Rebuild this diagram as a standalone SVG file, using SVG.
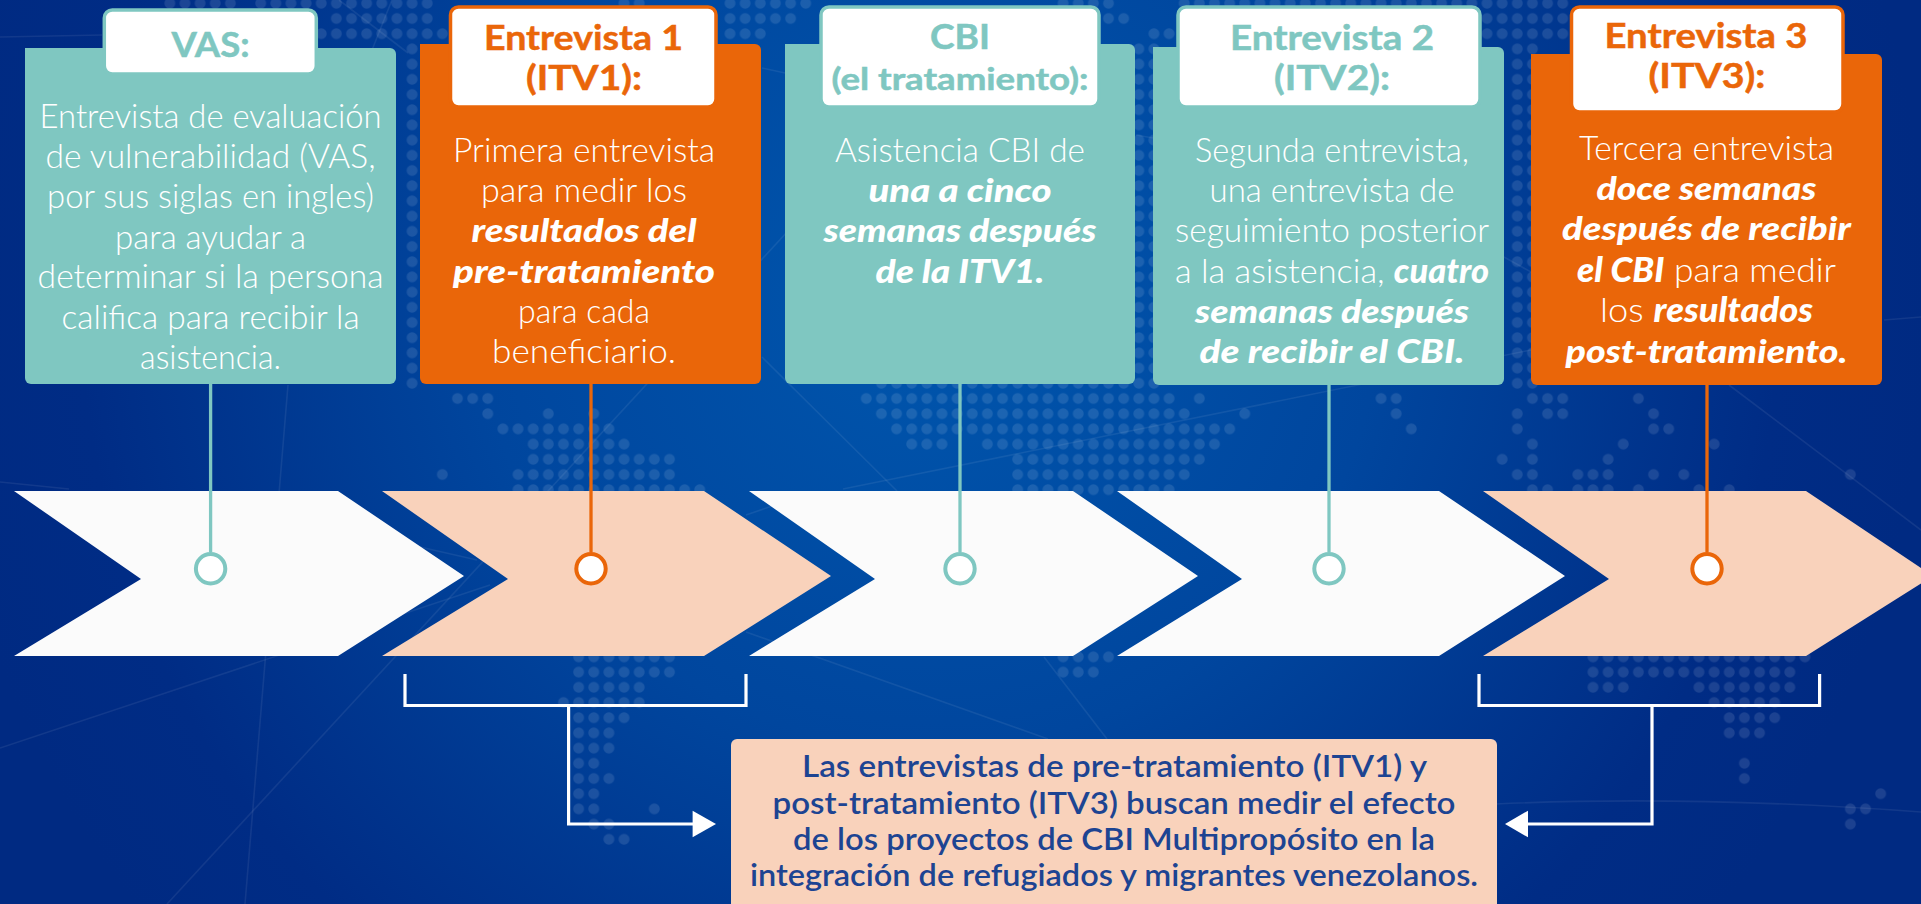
<svg xmlns="http://www.w3.org/2000/svg" width="1921" height="904" viewBox="0 0 1921 904">
<style>
text{font-family:Lato,"Noto Sans","Liberation Sans",sans-serif;text-anchor:middle}
.b{font-size:34px;font-weight:300;fill:#fff}
.i{font-size:33px;font-weight:900;font-style:italic;fill:#fff}
.s{font-weight:900;font-style:italic}
.t{font-size:35px;font-weight:700;stroke-width:.5}
.teal{fill:#7fc7c1}.org{fill:#ea6609}
text.teal{stroke:#7fc7c1}text.org{stroke:#ea6609}
.tabt{fill:#fff;stroke:#7fc7c1;stroke-width:3.5}
.tabo{fill:#fff;stroke:#ea6609;stroke-width:3.5}
.n{font-size:30px;font-weight:600;fill:#1d4492}
.ln{stroke-width:3.3;fill:none}
.dt{fill:#fff;stroke-width:4}
.br{fill:none;stroke:#fff;stroke-width:3.2}
.tex{fill:none;stroke:#fff;stroke-opacity:.07;stroke-width:1.6}
</style>
<defs>
<radialGradient id="bg" gradientUnits="userSpaceOnUse" cx="930" cy="300" r="1000">
<stop offset="0" stop-color="#0056ad"/><stop offset=".45" stop-color="#00469e"/><stop offset=".85" stop-color="#002c85"/><stop offset="1" stop-color="#002a82"/>
</radialGradient>
<pattern id="dots" patternUnits="userSpaceOnUse" width="1" height="1">
<circle cx=".5" cy=".5" r=".36" fill="#fff" fill-opacity=".11"/>
</pattern>
</defs>
<rect id="background" width="1921" height="904" fill="url(#bg)"/>
<path id="map-dots" fill="url(#dots)" transform="translate(-4.27 -4.3) scale(15.14 15.2)" d="
M11 0h5v1h-5zM17 0h12v1h-12zM41 0h2v1h-2zM48 0h6v1h-6zM70 0h4v1h-4zM78 0h26v1h-26z
M22 1h7v1h-7zM48 1h5v1h-5zM73 1h2v1h-2zM98 1h6v1h-6z
M21 2h9v1h-9zM48 2h3v1h-3zM76 2h3v1h-3zM98 2h6v1h-6z
M27 3h1v23h-1zM75 3h2v23h-2zM100 3h2v23h-2z
M58 25h18v1h-18z
M30 26h3v1h-3zM57 26h21v1h-21zM79 26h1v1h-1zM91 26h2v1h-2zM101 26h3v1h-3zM108 26h1v1h-1z
M32 27h1v1h-1zM36 27h1v1h-1zM39 27h1v1h-1zM58 27h21v1h-21zM82 27h1v1h-1zM92 27h1v1h-1zM100 27h1v1h-1zM102 27h2v1h-2zM109 27h1v1h-1z
M33 28h8v1h-8zM59 28h23v1h-23zM93 28h1v1h-1zM100 28h1v1h-1zM109 28h2v1h-2z
M35 29h7v1h-7zM60 29h3v1h-3zM65 29h16v1h-16zM101 29h1v1h-1zM107 29h1v1h-1zM113 29h1v1h-1z
M35 30h10v1h-10zM67 30h13v1h-13zM99 30h1v1h-1zM101 30h1v1h-1zM106 30h1v1h-1z
M29 31h1v1h-1zM34 31h11v1h-11zM67 31h12v1h-12zM100 31h2v1h-2zM104 31h3v1h-3zM109 31h1v1h-1zM111 31h1v1h-1zM122 31h1v1h-1z
M34 32h13v1h-13zM67 32h11v1h-11zM101 32h2v1h-2zM104 32h3v1h-3zM108 32h1v1h-1zM112 32h1v1h-1zM114 32h1v1h-1z
M38 43h7v1h-7zM70 43h4v1h-4zM105 43h15v1h-15z
M38 44h7v1h-7zM70 44h3v1h-3zM105 44h14v1h-14z
M38 45h5v1h-5zM105 45h3v1h-3zM112 45h7v1h-7z
M37 46h6v1h-6zM113 46h5v1h-5z
M38 47h4v1h-4zM114 47h4v1h-4z
M38 48h3v1h-3zM114 48h3v1h-3z
M38 49h3v1h-3z
M38 50h2v1h-2zM115 50h1v1h-1z
M38 51h3v1h-3zM115 51h1v1h-1z
M38 52h2v1h-2zM124 52h1v1h-1z
M38 53h2v1h-2zM43 53h1v1h-1zM122 53h2v1h-2z
M39 54h2v1h-2zM122 54h1v1h-1z
M40 55h2v1h-2z"/>
<g id="texture-lines" class="tex">
<path d="M167 904L800 218"/>
<path d="M0 748L490 585"/>
<path d="M746 515L775 505"/>
<path d="M843 489L1531 350"/>
<path d="M245 904L288 385"/>
<path d="M477 560L420 547"/>
<path d="M746 632L1048 739"/>
<path d="M1044 657L1107 739"/>
<path d="M762 357L897 491"/>
<path d="M1729 385L1921 530"/>
<path d="M1496 804Q1690 795 1921 812"/>
<path d="M0 37L102 35"/>
<path d="M0 482L69 489"/>
<path d="M339 0L408 53"/>
<path d="M392 0L372 50"/>
<path d="M762 68L785 73"/>
<path d="M1136 135L1153 138"/>
<path d="M1884 320L1921 317"/>
<path d="M1504 257L1531 272"/>
</g>
<g id="chevrons">
<polygon id="chevron-1" fill="#fbfbfb" points="14,491 338,491 464,576 338,656 14,656 141,579"/>
<polygon id="chevron-2" fill="#f9d2bb" points="382,491 704,491 831,576 704,656 382,656 508,579"/>
<polygon id="chevron-3" fill="#fbfbfb" points="749,491 1073,491 1198,576 1073,656 749,656 875,579"/>
<polygon id="chevron-4" fill="#fbfbfb" points="1117,491 1439,491 1565,576 1439,656 1117,656 1242,579"/>
<polygon id="chevron-5" fill="#f9d2bb" points="1483,491 1806,491 1933,576 1806,656 1483,656 1609,579"/>
</g>
<g id="connectors">
<path class="ln" stroke="#7fc7c1" d="M210.6 384V552"/>
<path class="ln" stroke="#ea6609" d="M591 384V552"/>
<path class="ln" stroke="#7fc7c1" d="M960 384V552"/>
<path class="ln" stroke="#7fc7c1" d="M1329 385V552"/>
<path class="ln" stroke="#ea6609" d="M1707 385V552"/>
<circle class="dt" stroke="#7fc7c1" cx="210.6" cy="568.7" r="14.7"/>
<circle class="dt" stroke="#ea6609" cx="591" cy="568.7" r="14.7"/>
<circle class="dt" stroke="#7fc7c1" cx="960" cy="568.7" r="14.7"/>
<circle class="dt" stroke="#7fc7c1" cx="1329" cy="568.7" r="14.7"/>
<circle class="dt" stroke="#ea6609" cx="1707" cy="568.7" r="14.7"/>
<path class="br" d="M405 674V705.5H746V674"/>
<path class="br" d="M568.6 705.5V824H694"/>
<polygon fill="#fff" points="692.6,810.7 716,824 692.6,837.3"/>
<path class="br" d="M1479 674V705.5H1819.6V674"/>
<path class="br" d="M1652 705.5V824H1527"/>
<polygon fill="#fff" points="1528,810.7 1505,824 1528,837.3"/>
</g>
<g id="node-vas">
<path class="teal" d="M25 48H390a6 6 0 0 1 6 6V378a6 6 0 0 1 -6 6H31a6 6 0 0 1 -6 -6Z"/>
<rect class="tabt" x="104.3" y="10" width="212" height="64" rx="8"/>
<text class="t teal" x="210.6" y="57" textLength="78" lengthAdjust="spacingAndGlyphs">VAS:</text>
<text class="b" x="210.6" y="128.3" textLength="342" lengthAdjust="spacingAndGlyphs">Entrevista de evaluación</text>
<text class="b" x="210.6" y="168.3" textLength="330" lengthAdjust="spacingAndGlyphs">de vulnerabilidad (VAS,</text>
<text class="b" x="210.6" y="208.3" textLength="327" lengthAdjust="spacingAndGlyphs">por sus siglas en ingles)</text>
<text class="b" x="210.6" y="249" textLength="191" lengthAdjust="spacingAndGlyphs">para ayudar a</text>
<text class="b" x="210.6" y="288.3" textLength="346" lengthAdjust="spacingAndGlyphs">determinar si la persona</text>
<text class="b" x="210.6" y="329" textLength="298" lengthAdjust="spacingAndGlyphs">califica para recibir la</text>
<text class="b" x="210.6" y="369" textLength="141" lengthAdjust="spacingAndGlyphs">asistencia.</text>
</g>
<g id="node-entrevista-1">
<path class="org" d="M420 44H755a6 6 0 0 1 6 6V378a6 6 0 0 1 -6 6H426a6 6 0 0 1 -6 -6Z"/>
<rect class="tabo" x="450.5" y="7" width="265.5" height="100" rx="8"/>
<text class="t org" x="583.5" y="50" textLength="199" lengthAdjust="spacingAndGlyphs">Entrevista 1</text>
<text class="t org" x="584" y="90" textLength="116" lengthAdjust="spacingAndGlyphs">(ITV1):</text>
<text class="b" x="584" y="162" textLength="262" lengthAdjust="spacingAndGlyphs">Primera entrevista</text>
<text class="b" x="584" y="202" textLength="206" lengthAdjust="spacingAndGlyphs">para medir los</text>
<text class="i" x="584" y="242" textLength="225" lengthAdjust="spacingAndGlyphs">resultados del</text>
<text class="i" x="584" y="283" textLength="262" lengthAdjust="spacingAndGlyphs">pre-tratamiento</text>
<text class="b" x="584" y="323" textLength="132" lengthAdjust="spacingAndGlyphs">para cada</text>
<text class="b" x="584" y="363" textLength="184" lengthAdjust="spacingAndGlyphs">beneficiario.</text>
</g>
<g id="node-cbi">
<path class="teal" d="M785 44H1129a6 6 0 0 1 6 6V378a6 6 0 0 1 -6 6H791a6 6 0 0 1 -6 -6Z"/>
<rect class="tabt" x="821" y="7" width="278" height="100" rx="8"/>
<text class="t teal" x="960" y="49" textLength="60" lengthAdjust="spacingAndGlyphs">CBI</text>
<text class="t teal" x="960" y="90" style="font-size:30px" textLength="257" lengthAdjust="spacingAndGlyphs">(el tratamiento):</text>
<text class="b" x="960" y="162" textLength="250" lengthAdjust="spacingAndGlyphs">Asistencia CBI de</text>
<text class="i" x="960" y="202" textLength="183" lengthAdjust="spacingAndGlyphs">una a cinco</text>
<text class="i" x="960" y="242" textLength="273" lengthAdjust="spacingAndGlyphs">semanas después</text>
<text class="i" x="960" y="283" textLength="169" lengthAdjust="spacingAndGlyphs">de la ITV1.</text>
</g>
<g id="node-entrevista-2">
<path class="teal" d="M1153 47H1498a6 6 0 0 1 6 6V379a6 6 0 0 1 -6 6H1159a6 6 0 0 1 -6 -6Z"/>
<rect class="tabt" x="1178" y="7" width="302" height="100" rx="8"/>
<text class="t teal" x="1332" y="50" textLength="204" lengthAdjust="spacingAndGlyphs">Entrevista 2</text>
<text class="t teal" x="1332" y="90" textLength="116" lengthAdjust="spacingAndGlyphs">(ITV2):</text>
<text class="b" x="1332" y="162" textLength="274" lengthAdjust="spacingAndGlyphs">Segunda entrevista,</text>
<text class="b" x="1332" y="202" textLength="245" lengthAdjust="spacingAndGlyphs">una entrevista de</text>
<text class="b" x="1332" y="242" textLength="314" lengthAdjust="spacingAndGlyphs">seguimiento posterior</text>
<text class="b" x="1332" y="283" textLength="314" lengthAdjust="spacingAndGlyphs">a la asistencia, <tspan class="s">cuatro</tspan></text>
<text class="i" x="1332" y="323" textLength="274" lengthAdjust="spacingAndGlyphs">semanas después</text>
<text class="i" x="1332" y="363" textLength="265" lengthAdjust="spacingAndGlyphs">de recibir el CBI.</text>
</g>
<g id="node-entrevista-3">
<path class="org" d="M1531 54H1876a6 6 0 0 1 6 6V379a6 6 0 0 1 -6 6H1537a6 6 0 0 1 -6 -6Z"/>
<rect class="tabo" x="1571.5" y="7" width="271.5" height="105" rx="8"/>
<text class="t org" x="1706" y="48" textLength="203" lengthAdjust="spacingAndGlyphs">Entrevista 3</text>
<text class="t org" x="1707" y="88" textLength="117" lengthAdjust="spacingAndGlyphs">(ITV3):</text>
<text class="b" x="1706.5" y="160" textLength="255" lengthAdjust="spacingAndGlyphs">Tercera entrevista</text>
<text class="i" x="1706.5" y="200" textLength="220" lengthAdjust="spacingAndGlyphs">doce semanas</text>
<text class="i" x="1706.5" y="240" textLength="289" lengthAdjust="spacingAndGlyphs">después de recibir</text>
<text class="b" x="1706.5" y="282" textLength="259" lengthAdjust="spacingAndGlyphs"><tspan class="s">el CBI</tspan> para medir</text>
<text class="b" x="1706.5" y="322" textLength="213" lengthAdjust="spacingAndGlyphs">los <tspan class="s">resultados</tspan></text>
<text class="i" x="1706.5" y="363" textLength="282" lengthAdjust="spacingAndGlyphs">post-tratamiento.</text>
</g>
<g id="node-nota">
<path fill="#f9d2bb" d="M731 745a6 6 0 0 1 6 -6H1491a6 6 0 0 1 6 6V910H731Z"/>
<text class="n" x="1114.5" y="777" textLength="625" lengthAdjust="spacingAndGlyphs">Las entrevistas de pre-tratamiento (ITV1) y</text>
<text class="n" x="1114" y="813.7" textLength="683" lengthAdjust="spacingAndGlyphs">post-tratamiento (ITV3) buscan medir el efecto</text>
<text class="n" x="1114" y="850.3" textLength="642" lengthAdjust="spacingAndGlyphs">de los proyectos de CBI Multipropósito en la</text>
<text class="n" x="1114" y="886.3" textLength="728" lengthAdjust="spacingAndGlyphs">integración de refugiados y migrantes venezolanos.</text>
</g>
</svg>
